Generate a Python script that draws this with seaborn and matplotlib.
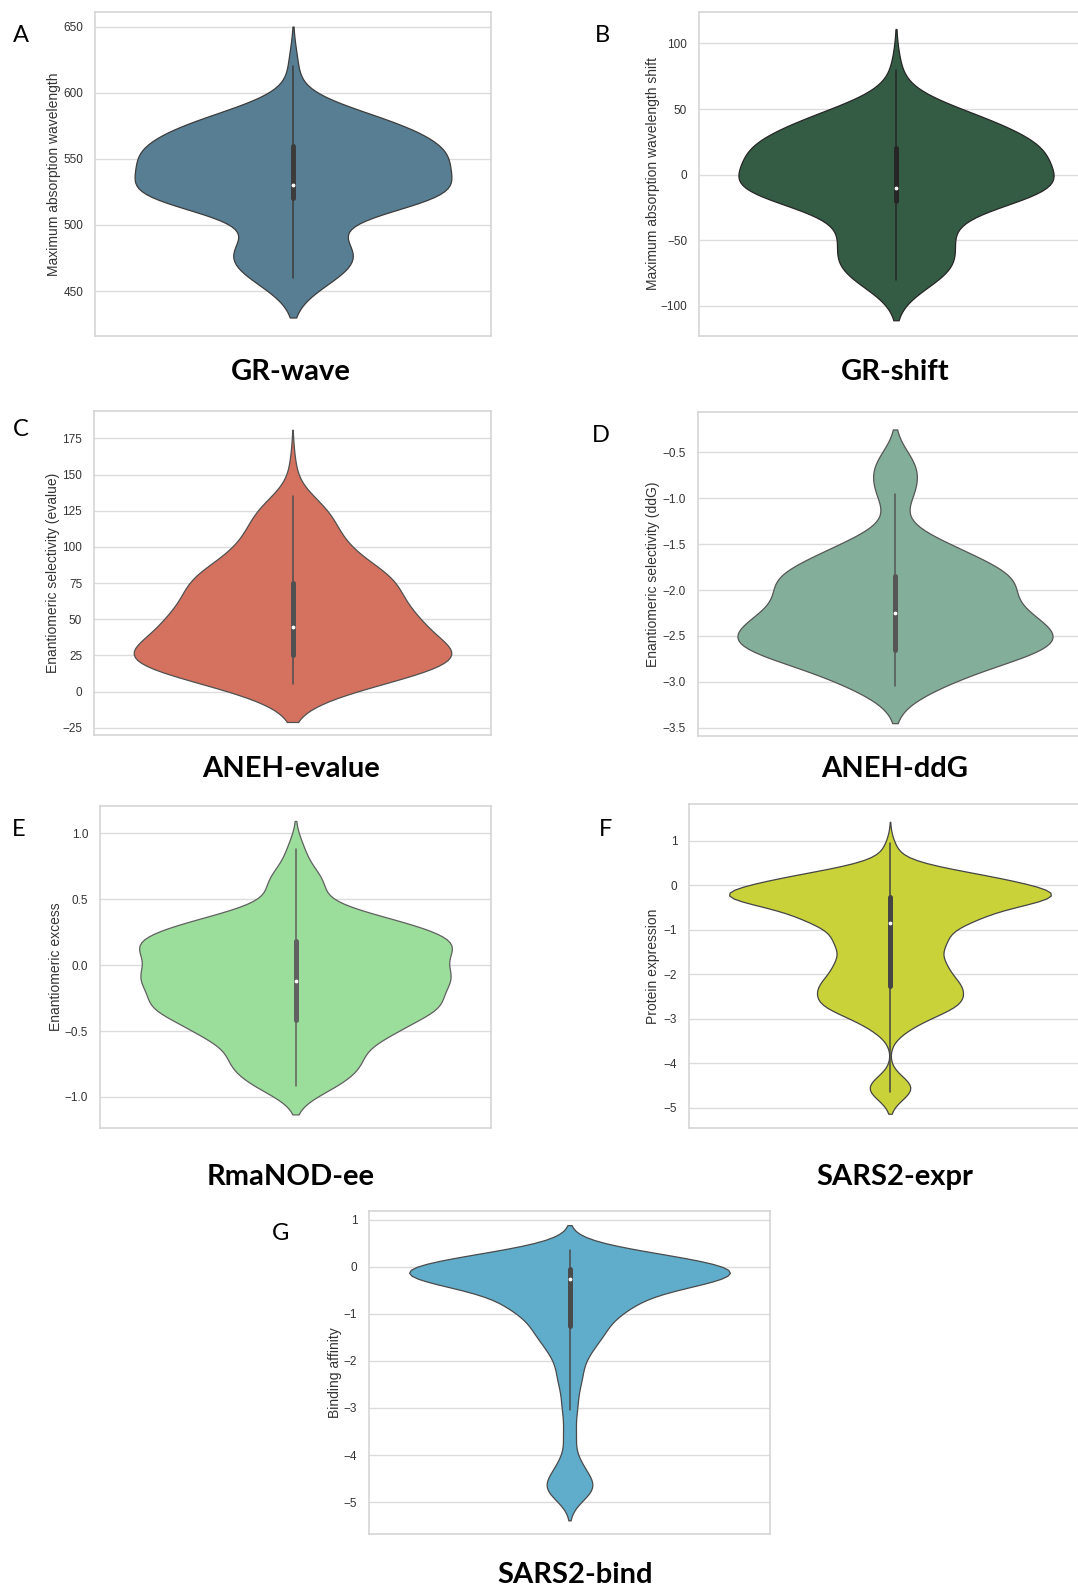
import numpy as np
import matplotlib
matplotlib.use("Agg")
import matplotlib.pyplot as plt
import seaborn as sns

# Each dataset is stored as binned values + how many samples fall in each bin,
# read off the violin outlines of the reference figure.
gr_wave_values = [460, 470, 480, 490, 500, 510, 520, 530, 540, 550, 560, 570, 580, 590, 600, 610, 620]
gr_wave_counts = [20, 9, 32, 8, 0, 0, 80, 44, 8, 71, 29, 31, 41, 0, 0, 0, 4]

gr_shift_values = [-80, -70, -60, -50, -40, -30, -20, -10, 0, 10, 20, 30, 40, 50, 60, 70, 80]
gr_shift_counts = [10, 25, 0, 20, 12, 0, 17, 80, 4, 27, 60, 1, 41, 9, 0, 0, 3]

aneh_evalue_values = [5, 15, 25, 35, 45, 55, 65, 75, 85, 95, 105, 115, 125, 135, 145, 155]
aneh_evalue_counts = [31, 30, 80, 16, 48, 32, 23, 37, 26, 11, 20, 4, 20, 1, 0, 2]

aneh_ddg_values = [-3.05, -2.95, -2.85, -2.75, -2.65, -2.55, -2.45, -2.35, -2.25, -2.15,
                   -2.05, -1.95, -1.85, -1.75, -1.65, -1.55, -1.45, -1.35, -1.25, -1.15,
                   -1.05, -0.95, -0.85, -0.75, -0.65]
aneh_ddg_counts = [18, 33, 7, 23, 80, 57, 33, 47, 53, 23,
                   17, 45, 63, 18, 10, 41, 8, 0, 0, 0,
                   0, 19, 0, 0, 23]

rmanod_ee_values = [-0.92, -0.82, -0.72, -0.62, -0.52, -0.42, -0.32, -0.22, -0.12, -0.02,
                    0.08, 0.18, 0.28, 0.38, 0.48, 0.58, 0.68, 0.78, 0.88]
rmanod_ee_counts = [22, 21, 34, 15, 52, 32, 80, 38, 78, 52,
                    58, 74, 50, 37, 0, 16, 12, 2, 6]

sars2_expr_values = [-4.65, -4.45, -4.25, -4.05, -3.85, -3.65, -3.45, -3.25, -3.05, -2.85,
                     -2.65, -2.45, -2.25, -2.05, -1.85, -1.65, -1.45, -1.25, -1.05, -0.85,
                     -0.65, -0.45, -0.25, -0.05, 0.15, 0.35, 0.55, 0.75, 0.95]
sars2_expr_counts = [8, 8, 0, 0, 0, 0, 0, 5, 7, 12,
                     24, 12, 24, 11, 15, 15, 5, 24, 4, 21,
                     31, 6, 80, 16, 43, 10, 0, 3, 1]

sars2_bind_values = [-4.85, -4.65, -4.45, -4.25, -4.05, -3.85, -3.65, -3.45, -3.25, -3.05,
                     -2.85, -2.65, -2.45, -2.25, -2.05, -1.85, -1.65, -1.45, -1.25, -1.05,
                     -0.85, -0.65, -0.45, -0.25, -0.05, 0.15, 0.35]
sars2_bind_counts = [5, 14, 0, 7, 1, 0, 3, 2, 0, 3,
                     3, 0, 5, 4, 1, 8, 4, 12, 10, 8,
                     20, 24, 1, 80, 32, 57, 3]

# KDE bandwidths (same units as the data), judged from how far the violins run past the data
kde_bw = [15, 15.5, 13, 0.2, 0.106, 0.24, 0.27]

titles = ["GR-wave", "GR-shift", "ANEH-evalue", "ANEH-ddG", "RmaNOD-ee", "SARS2-expr", "SARS2-bind"]
letters = ["A", "B", "C", "D", "E", "F", "G"]
ylabels = ["Maximum absorption wavelength", "Maximum absorption wavelength shift",
           "Enantiomeric selectivity (evalue)", "Enantiomeric selectivity (ddG)",
           "Enantiomeric excess", "Protein expression", "Binding affinity"]
yticks = [[450, 500, 550, 600, 650],
          [-100, -50, 0, 50, 100],
          [-25, 0, 25, 50, 75, 100, 125, 150, 175],
          [-3.5, -3.0, -2.5, -2.0, -1.5, -1.0, -0.5],
          [-1.0, -0.5, 0.0, 0.5, 1.0],
          [-5, -4, -3, -2, -1, 0, 1],
          [-5, -4, -3, -2, -1, 0, 1]]
ylims = [(416, 661), (-123, 124), (-30, 194), (-3.59, -0.06),
         (-1.235, 1.205), (-5.45, 1.83), (-5.68, 1.19)]

datasets = [(gr_wave_values, gr_wave_counts), (gr_shift_values, gr_shift_counts),
            (aneh_evalue_values, aneh_evalue_counts), (aneh_ddg_values, aneh_ddg_counts),
            (rmanod_ee_values, rmanod_ee_counts), (sars2_expr_values, sars2_expr_counts),
            (sars2_bind_values, sars2_bind_counts)]

fill_colors = ["#587e93", "#345b44", "#d4725f", "#83af9a", "#9bdd9a", "#cad23a", "#60adcb"]
edge_colors = ["#3c3c3c", "#262626", "#505050", "#555555", "#606060", "#454545", "#4a4a4a"]

# layout in pixels: axes box (left, right, top, bottom), ylabel centre x, title centre, letter centre
boxes = [(95, 491, 12, 336), (699, 1093, 12, 336),
         (94, 491, 411, 735), (698, 1092, 412, 736),
         (100, 491, 806, 1128), (689, 1091, 804, 1128),
         (369, 770, 1211, 1534)]
ylabel_x = [55, 654, 54, 654, 57, 654, 335]
title_pos = [(291, 372), (895, 372), (291, 769), (895, 769), (291, 1177), (895, 1177), (575, 1575)]
letter_pos = [(21, 36), (602, 36), (21, 430), (601, 435), (19, 829), (606, 829), (281, 1234)]

sns.set_style("whitegrid", {"axes.edgecolor": "#d2d2d2", "grid.color": "#dcdcdc"})
plt.rcParams["font.family"] = ["Liberation Sans", "DejaVu Sans"]
plt.rcParams["axes.linewidth"] = 1.1
plt.rcParams["grid.linewidth"] = 1.0

W, H = 1078, 1590
fig = plt.figure(figsize=(W / 100, H / 100), dpi=100)

for i in range(7):
    values, counts = datasets[i]
    data = np.repeat(values, counts)
    l, r, t, b = boxes[i]
    ax = fig.add_axes([l / W, 1 - b / H, (r - l) / W, (b - t) / H])

    sns.violinplot(y=data, ax=ax, color=fill_colors[i], saturation=1,
                   linecolor=edge_colors[i], linewidth=0.9, cut=2,
                   bw_method=kde_bw[i] / np.std(data, ddof=1), inner="box",
                   inner_kws=dict(box_width=3.6, whis_width=1.1, marker="o", markersize=2))

    ax.set_xlim(-0.5, 0.5)
    ax.set_xticks([])
    ax.set_xlabel("")
    ax.set_ylim(*ylims[i])
    ax.set_yticks(yticks[i])
    ax.tick_params(axis="y", labelsize=8.5, pad=5, colors="#333333")
    ax.set_ylabel(ylabels[i], fontsize=10, color="#333333")
    ax.yaxis.set_label_coords((ylabel_x[i] + 6.5 - l) / (r - l), 0.5)
    for s in ax.spines.values():
        s.set_visible(True)

    tx, ty = title_pos[i]
    fig.text(tx / W, 1 - ty / H, titles[i], ha="center", va="center",
             fontsize=21, fontweight="bold", family=["Lato", "DejaVu Sans"], color="black")
    lx, ly = letter_pos[i]
    fig.text(lx / W, 1 - ly / H, letters[i], ha="center", va="center",
             fontsize=17, family=["Lato", "DejaVu Sans"], color="black")

fig.savefig("out.png", dpi=100)
